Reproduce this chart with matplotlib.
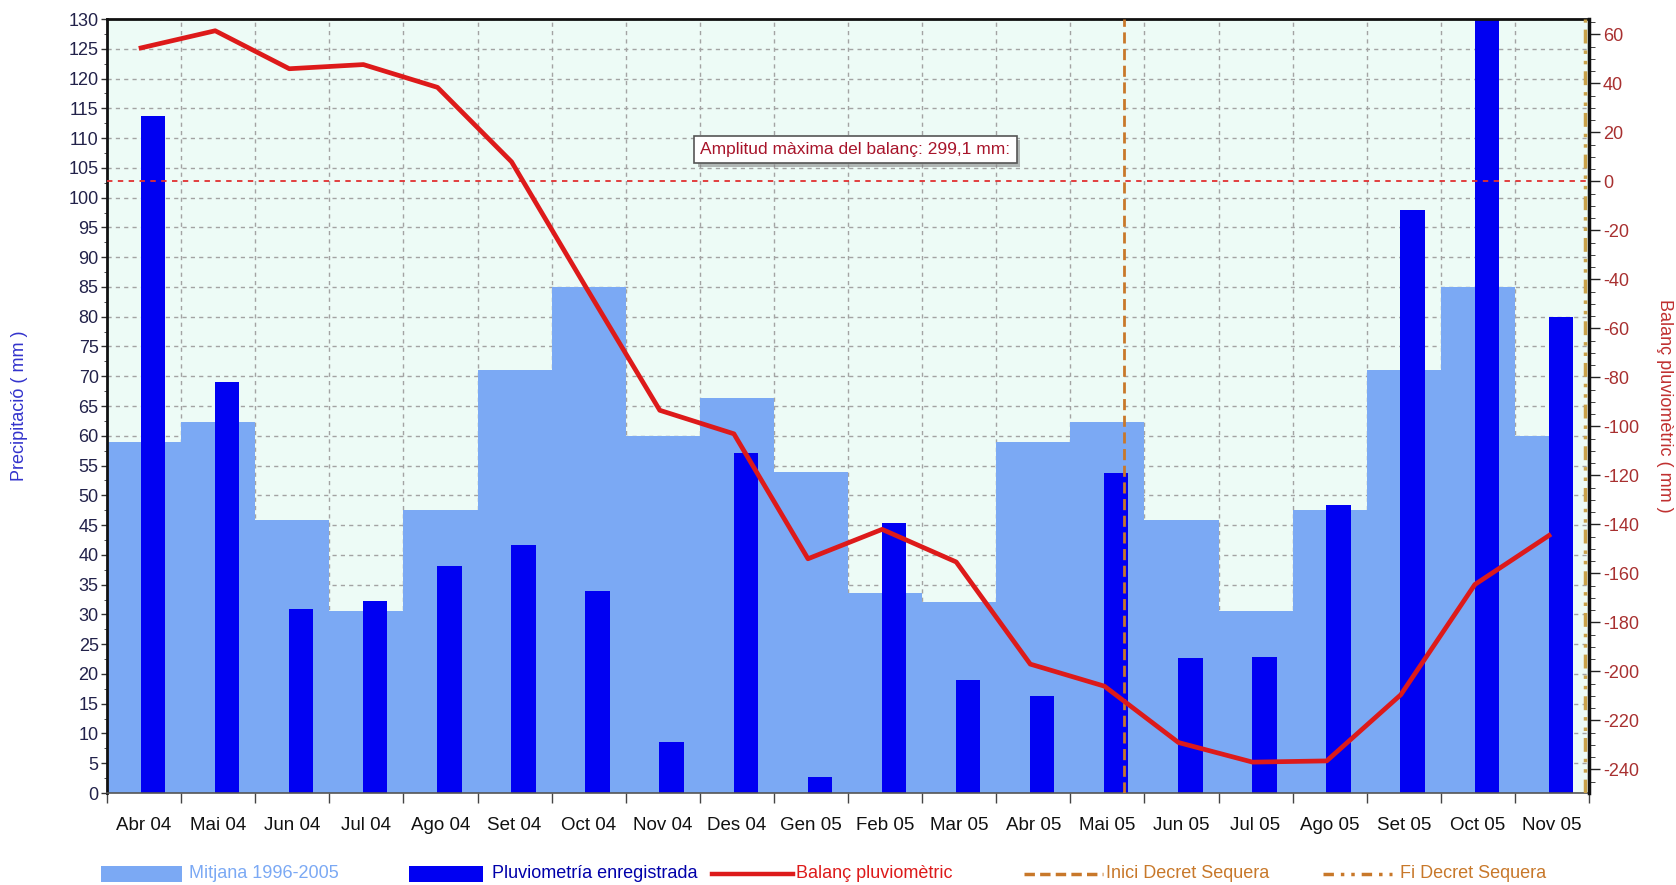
import numpy as np
import matplotlib
matplotlib.use("Agg")
import matplotlib.pyplot as plt
from matplotlib.patches import Rectangle
from matplotlib.lines import Line2D
from matplotlib.ticker import MultipleLocator, FixedLocator, NullFormatter
import matplotlib.patheffects as pe

plt.rcParams['font.family'] = ['Liberation Sans', 'DejaVu Sans']
plt.rcParams['axes.unicode_minus'] = False

# ---------------- data ----------------
months = ["Abr 04", "Mai 04", "Jun 04", "Jul 04", "Ago 04", "Set 04", "Oct 04",
          "Nov 04", "Des 04", "Gen 05", "Feb 05", "Mar 05", "Abr 05", "Mai 05",
          "Jun 05", "Jul 05", "Ago 05", "Set 05", "Oct 05", "Nov 05"]
mitjana = [59, 62.3, 45.8, 30.5, 47.6, 71, 85, 60, 66.4, 53.9, 33.6, 32,
           59, 62.3, 45.8, 30.5, 47.6, 71, 85, 60]
pluviometria = [113.7, 69.1, 30.9, 32.3, 38.2, 41.7, 33.9, 8.6, 57.1, 2.7, 45.3,
                19.0, 16.3, 53.7, 22.6, 22.8, 48.3, 97.9, 130, 79.9]
balanc = [54.5, 61.5, 46, 47.7, 38.4, 8, -43, -93.4, -103, -154, -142, -155.3,
          -197, -206, -229, -237, -236.5, -209.5, -164.5, -144.5]
inici_decret = 13.22   # position (in month units) of "Inici Decret Sequera"
fi_decret = 19.45      # position (in month units) of "Fi Decret Sequera"
amplitud_text = "Amplitud màxima del balanç: 299,1 mm:"

# ---------------- styles ----------------
c_mitjana = "#7BA9F4"
c_pluv = "#0000F2"
c_red = "#DD1A1A"
c_inici = "#C8782A"
c_fi = "#C9A24A"
c_bg = "#EDFBF6"
c_grid = "#a3a3a3"

W, H = 1676, 885
fig = plt.figure(figsize=(W / 100, H / 100), dpi=100)
L, R, T, B = 107, 1589, 19, 793
ax = fig.add_axes([L / W, 1 - B / H, (R - L) / W, (B - T) / H])
ax.set_facecolor(c_bg)

n = len(months)
x = np.arange(n)
bar_off, bar_w = 0.12, 0.33

# grid (behind everything)
ax.set_axisbelow(True)
ax.grid(True, which='major', axis='y', color=c_grid, ls=(0, (3, 3)), lw=1)
for b in np.arange(n + 1) - 0.5:
    ax.axvline(b, color=c_grid, ls=(0, (3, 3)), lw=1, zorder=0.5)

# Mitjana stepped area
edges = (np.arange(n + 1) - 0.5).astype(float)
edges[-1] = x[-1] + bar_off + bar_w / 2
ax.stairs(mitjana, edges, fill=True, color=c_mitjana, zorder=1)

# Pluviometria bars
ax.bar(x + bar_off, pluviometria, width=bar_w, color=c_pluv, zorder=2)

ax.set_xlim(-0.5, n - 0.5)
ax.set_ylim(0, 130)
ax.yaxis.set_major_locator(MultipleLocator(5))
ax.yaxis.set_minor_locator(MultipleLocator(2.5))
ax.tick_params(axis='y', which='major', length=4, width=1, pad=2,
               labelsize=13, labelcolor='#22224a', color='#333333')
ax.tick_params(axis='y', which='minor', length=2, color='#333333')
ax.xaxis.set_major_locator(FixedLocator(np.arange(n + 1) - 0.5))
ax.xaxis.set_major_formatter(NullFormatter())
ax.xaxis.set_minor_locator(FixedLocator(x))
ax.set_xticklabels(months, minor=True)
ax.tick_params(axis='x', which='major', length=7, width=1, color='#444444')
ax.tick_params(axis='x', which='minor', length=0, pad=17, labelsize=13.5,
               labelcolor='#111111')

for s in ['left', 'top']:
    ax.spines[s].set_color('#111111')
    ax.spines[s].set_linewidth(2)
ax.spines['bottom'].set_color('#555555')
ax.spines['bottom'].set_linewidth(1.2)
ax.spines['right'].set_visible(False)

# secondary axis: balance
ax2 = ax.twinx()
ax2.set_ylim(-249.6, 66.3)
ax2.set_xlim(-0.5, n - 0.5)
ax2.axhline(0, color='#E03030', ls=(0, (3, 3)), lw=1.3, zorder=3)
ax2.axvline(inici_decret, color=c_inici, ls=(0, (4, 2)), lw=2, zorder=3)
ax2.axvline(fi_decret, color=c_fi, ls=(0, (4, 2, 1, 2, 1, 2)), lw=2.5, zorder=3)
ax2.plot(x - 0.04, balanc, color=c_red, lw=3.4, solid_joinstyle='round', zorder=4)

ax2.yaxis.set_major_locator(MultipleLocator(20))
ax2.yaxis.set_minor_locator(MultipleLocator(5))
ax2.tick_params(axis='y', which='major', length=8, width=1, pad=2,
                labelsize=13, labelcolor='#A83030', color='#222222')
ax2.tick_params(axis='y', which='minor', length=4, color='#222222')
ax2.spines['right'].set_color('#111111')
ax2.spines['right'].set_linewidth(2.5)
for s in ['left', 'top', 'bottom']:
    ax2.spines[s].set_visible(False)

# annotation box
t = ax.text(0.505, 0.831, amplitud_text, transform=ax.transAxes, ha='center',
            va='center', fontsize=12.5, color='#A8142A', zorder=6,
            bbox=dict(boxstyle='square,pad=0.35', fc='white', ec='#555555', lw=1.2))
t.get_bbox_patch().set_path_effects([
    pe.SimplePatchShadow(offset=(2.5, -2.5), shadow_rgbFace='#888888', alpha=0.6),
    pe.Normal()])

# axis titles
fig.text(20 / W, 1 - 406 / H, "Precipitació ( mm )", rotation=90, ha='center',
         va='center', fontsize=13, color='#3333CC')
fig.text(1664 / W, 1 - 406 / H, "Balanç pluviomètric ( mm )", rotation=-90,
         ha='center', va='center', fontsize=13, color='#C03030')

# legend (custom, bottom)
ly = 1 - 874 / H
ph = 16 / H
fig.add_artist(Rectangle((101 / W, ly - ph / 2), 81 / W, ph, transform=fig.transFigure,
                         color=c_mitjana, lw=0))
fig.text(189 / W, ly, "Mitjana 1996-2005", fontsize=13, color=c_mitjana, va='center')
fig.add_artist(Rectangle((409 / W, ly - ph / 2), 74 / W, ph, transform=fig.transFigure,
                         color=c_pluv, lw=0))
fig.text(492 / W, ly, "Pluviometría enregistrada", fontsize=13, color='#0000AA',
         va='center')
fig.add_artist(Line2D([712 / W, 793 / W], [ly, ly], transform=fig.transFigure,
                      color=c_red, lw=3.2))
fig.text(796 / W, ly, "Balanç pluviomètric", fontsize=13, color=c_red, va='center')
fig.add_artist(Line2D([1024 / W, 1103 / W], [ly, ly], transform=fig.transFigure,
                      color=c_inici, lw=2.5, ls=(0, (3, 1.5))))
fig.text(1106 / W, ly, "Inici Decret Sequera", fontsize=13, color=c_inici, va='center')
fig.add_artist(Line2D([1323 / W, 1392 / W], [ly, ly], transform=fig.transFigure,
                      color=c_inici, lw=2.5, ls=(0, (3, 2, 1, 2, 1, 2))))
fig.text(1400 / W, ly, "Fi Decret Sequera", fontsize=13, color=c_inici, va='center')

fig.savefig("out.png", dpi=100)
